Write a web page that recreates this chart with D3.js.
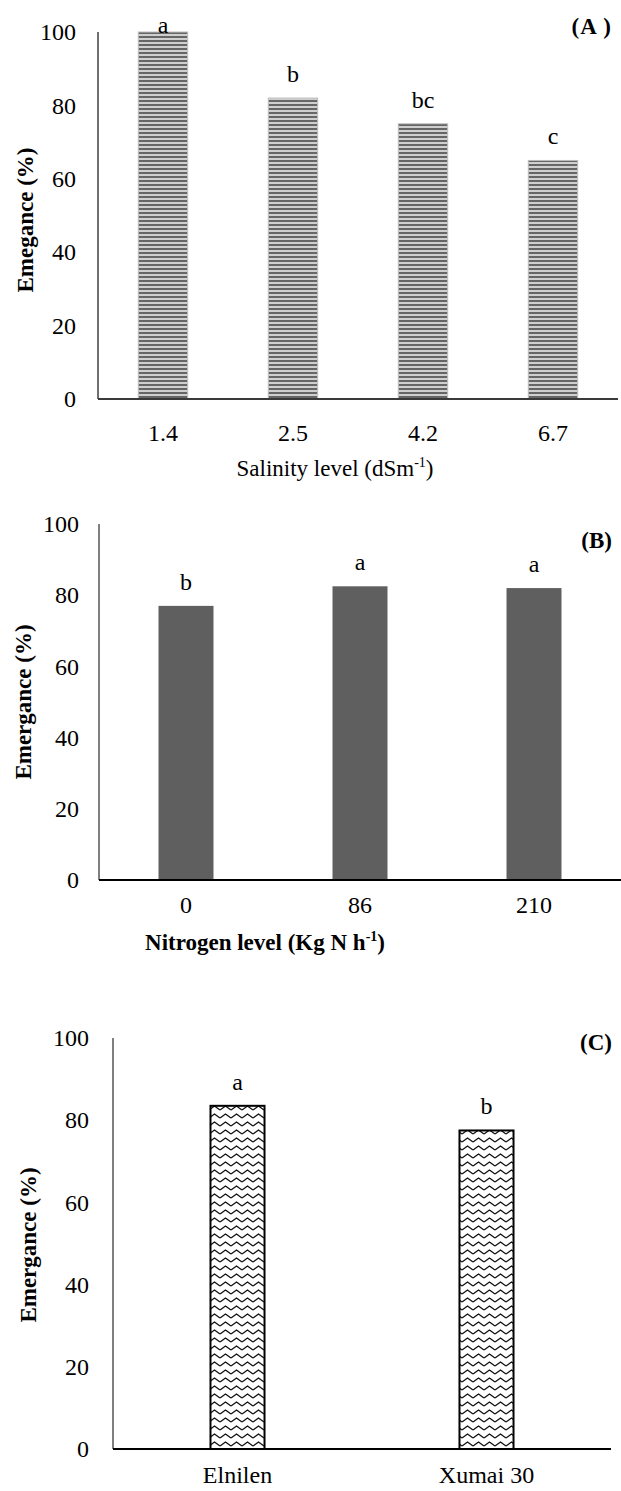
<!DOCTYPE html>
<html lang="en">
<head>
  <meta charset="utf-8" />
  <title>Emergence by salinity, nitrogen and variety</title>
  <script src="https://d3js.org/d3.v7.min.js"></script>
  <style>
    body { margin: 0; background: #fff; }
    text { font-family: "Liberation Serif", "Times New Roman", "DejaVu Serif", serif; fill: #000; }
  </style>
</head>
<body>
  <script>
    // data
    var yTicks = [0, 20, 40, 60, 80, 100];

    var salinityLevels = ["1.4", "2.5", "4.2", "6.7"];
    var salinityEmergence = [100, 82, 75, 65];
    var salinityLetters = ["a", "b", "bc", "c"];

    var nitrogenLevels = ["0", "86", "210"];
    var nitrogenEmergence = [77, 82.5, 82];
    var nitrogenLetters = ["b", "a", "a"];

    var varieties = ["Elnilen", "Xumai 30"];
    var varietyEmergence = [83.5, 77.5];
    var varietyLetters = ["a", "b"];

    var svg = d3.select("body").append("svg")
      .attr("width", 621)
      .attr("height", 1491);

    var defs = svg.append("defs");

    // horizontal stripes for panel A
    var stripes = defs.append("pattern")
      .attr("id", "stripes")
      .attr("patternUnits", "userSpaceOnUse")
      .attr("width", 8).attr("height", 4);
    stripes.append("rect").attr("width", 8).attr("height", 4).attr("fill", "#cfcfcf");
    stripes.append("rect").attr("width", 8).attr("height", 2).attr("fill", "#666");

    // zigzag waves for panel C
    var waves = defs.append("pattern")
      .attr("id", "waves")
      .attr("patternUnits", "userSpaceOnUse")
      .attr("width", 11).attr("height", 8);
    waves.append("rect").attr("width", 11).attr("height", 8).attr("fill", "#fff");
    waves.append("path")
      .attr("d", "M0,6 L5.5,2 L11,6")
      .attr("fill", "none")
      .attr("stroke", "#111")
      .attr("stroke-width", 1.4);

    function drawPanel(p) {
      var g = svg.append("g");

      var x = d3.scaleBand()
        .domain(p.categories)
        .range([p.left, p.right])
        .paddingInner(p.pad)
        .paddingOuter(p.pad / 2);

      var y = d3.scaleLinear().domain([0, 100]).range([p.bottom, p.top]);

      // y tick labels, no tick marks
      var yAxis = g.append("g")
        .attr("transform", "translate(" + p.left + ",0)")
        .call(d3.axisLeft(y).tickValues(yTicks).tickSize(0).tickPadding(p.tickPad));
      yAxis.select(".domain").remove();
      yAxis.selectAll("text")
        .attr("font-size", 24)
        .attr("fill", "#000");

      g.append("line")
        .attr("x1", p.left).attr("x2", p.left)
        .attr("y1", p.top).attr("y2", p.bottom)
        .attr("stroke", p.yAxisColor).attr("stroke-width", p.yAxisWidth);

      g.selectAll("rect.bar")
        .data(p.values)
        .enter().append("rect")
        .attr("class", "bar")
        .attr("x", function (d, i) { return x(p.categories[i]); })
        .attr("y", function (d) { return y(d); })
        .attr("width", x.bandwidth())
        .attr("height", function (d) { return y(0) - y(d); })
        .attr("fill", p.fill)
        .attr("stroke", p.stroke)
        .attr("stroke-width", p.strokeWidth);

      g.append("line")
        .attr("x1", p.left).attr("x2", p.right)
        .attr("y1", p.bottom).attr("y2", p.bottom)
        .attr("stroke", p.xAxisColor).attr("stroke-width", 2);

      // significance letters
      g.selectAll("text.letter")
        .data(p.values)
        .enter().append("text")
        .attr("class", "letter")
        .attr("x", function (d, i) { return x(p.categories[i]) + x.bandwidth() / 2; })
        .attr("y", function (d) { return Math.max(y(d) - 16, p.top + 1); })
        .attr("text-anchor", "middle")
        .attr("font-size", 24)
        .text(function (d, i) { return p.letters[i]; });

      // category labels
      g.selectAll("text.cat")
        .data(p.categories)
        .enter().append("text")
        .attr("class", "cat")
        .attr("x", function (d) { return x(d) + x.bandwidth() / 2; })
        .attr("y", p.catY)
        .attr("text-anchor", "middle")
        .attr("font-size", 24)
        .text(function (d) { return d; });

      if (p.xTitle) {
        var t = g.append("text")
          .attr("x", p.xTitleX)
          .attr("y", p.xTitleY)
          .attr("text-anchor", "middle")
          .attr("font-size", 23)
          .attr("font-weight", p.xTitleBold ? "bold" : "normal");
        t.append("tspan").text(p.xTitle);
        t.append("tspan").attr("dy", -9).attr("font-size", 14).text("-1");
        t.append("tspan").attr("dy", 9).text(")");
      }

      g.append("text")
        .attr("transform", "translate(" + p.yTitleX + "," + p.yTitleY + ") rotate(-90)")
        .attr("text-anchor", "middle")
        .attr("font-size", 23)
        .attr("font-weight", "bold")
        .text(p.yTitle);

      g.append("text")
        .attr("x", 612)
        .attr("y", p.tagY)
        .attr("text-anchor", "end")
        .attr("font-size", 23)
        .attr("font-weight", "bold")
        .attr("letter-spacing", p.tagSpacing)
        .text(p.tag);
    }

    drawPanel({
      categories: salinityLevels, values: salinityEmergence, letters: salinityLetters,
      left: 98, right: 618, top: 32, bottom: 399, pad: 0.62, tickPad: 22,
      fill: "url(#stripes)", stroke: "#bdbdbd", strokeWidth: 1,
      yAxisColor: "#6f6f6f", yAxisWidth: 2, xAxisColor: "#3a3a3a",
      catY: 441, xTitle: "Salinity level (dSm", xTitleX: 335, xTitleY: 476, xTitleBold: false,
      yTitle: "Emegance (%)", yTitleX: 33, yTitleY: 220,
      tag: "(A )", tagY: 34, tagSpacing: 1
    });

    drawPanel({
      categories: nitrogenLevels, values: nitrogenEmergence, letters: nitrogenLetters,
      left: 99, right: 621, top: 524, bottom: 880, pad: 0.684, tickPad: 20,
      fill: "#5f5f5f", stroke: "none", strokeWidth: 0,
      yAxisColor: "#000", yAxisWidth: 1, xAxisColor: "#000",
      catY: 913, xTitle: "Nitrogen level (Kg N h", xTitleX: 265, xTitleY: 950, xTitleBold: true,
      yTitle: "Emergance (%)", yTitleX: 31, yTitleY: 702,
      tag: "(B)", tagY: 548, tagSpacing: 0
    });

    drawPanel({
      categories: varieties, values: varietyEmergence, letters: varietyLetters,
      left: 113, right: 611, top: 1038, bottom: 1449, pad: 0.783, tickPad: 24,
      fill: "url(#waves)", stroke: "#000", strokeWidth: 2,
      yAxisColor: "#000", yAxisWidth: 1, xAxisColor: "#000",
      catY: 1483, xTitle: null,
      yTitle: "Emergance (%)", yTitleX: 36, yTitleY: 1245,
      tag: "(C)", tagY: 1050, tagSpacing: 0
    });
  </script>
</body>
</html>
